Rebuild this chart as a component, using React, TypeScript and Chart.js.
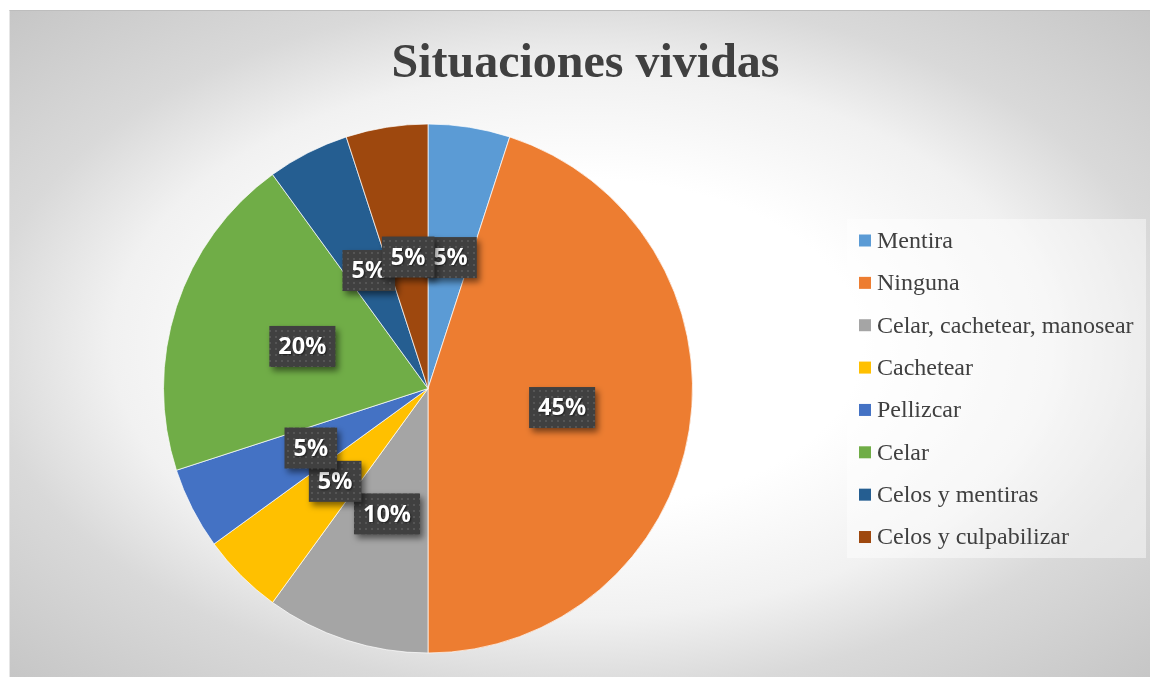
import React, { useEffect, useRef } from "react";
import { Chart, registerables } from "chart.js";

Chart.register(...registerables);

const TITLE = "Situaciones vividas";
const categories = [
  "Mentira",
  "Ninguna",
  "Celar, cachetear, manosear",
  "Cachetear",
  "Pellizcar",
  "Celar",
  "Celos y mentiras",
  "Celos y culpabilizar",
];
const percentages = [5, 45, 10, 5, 5, 20, 5, 5];
const sliceColors = [
  "#5B9BD5",
  "#ED7D31",
  "#A5A5A5",
  "#FFC000",
  "#4472C4",
  "#70AD47",
  "#255E91",
  "#9E480E",
];

// label box placement relative to the pie centre, in units of the pie radius
const labelNudges: [number, number][] = [
  [0.085, -0.495],
  [0.507, 0.072],
  [-0.155, 0.474],
  [-0.351, 0.351],
  [-0.443, 0.225],
  [-0.475, -0.159],
  [-0.224, -0.446],
  [-0.075, -0.497],
];

function makePattern(ctx: CanvasRenderingContext2D) {
  const c = document.createElement("canvas");
  c.width = 6;
  c.height = 6;
  const p = c.getContext("2d")!;
  p.fillStyle = "#404040";
  p.fillRect(0, 0, 6, 6);
  p.fillStyle = "#555555";
  p.fillRect(2, 2, 2, 2);
  return ctx.createPattern(c, "repeat")!;
}

const decorPlugin = {
  id: "decor",
  afterDraw(chart: any) {
    const ctx: CanvasRenderingContext2D = chart.ctx;
    const w = chart.width;
    // title
    ctx.save();
    ctx.fillStyle = "#404040";
    ctx.font = "bold 48px 'Liberation Serif', 'Times New Roman', serif";
    ctx.textAlign = "center";
    ctx.textBaseline = "alphabetic";
    ctx.fillText(TITLE, w / 2 + 6, 67);
    ctx.restore();

    // data labels
    const meta = chart.getDatasetMeta(0);
    const pattern = makePattern(ctx);
    const ds = chart.data.datasets[0];
    meta.data.forEach((arc: any, i: number) => {
      const { x, y, outerRadius } = arc.getProps(["x", "y", "outerRadius"], true);
      const [nx, ny] = labelNudges[i];
      const cx = x + nx * outerRadius;
      const cy = y + ny * outerRadius;
      const txt = ds.data[i] + "%";
      ctx.save();
      ctx.font = "bold 23.5px 'Open Sans', 'Noto Sans', sans-serif";
      const tw = ctx.measureText(txt).width;
      const bw = tw + 18;
      const bh = 41;
      ctx.shadowColor = "rgba(0,0,0,0.5)";
      ctx.shadowBlur = 6;
      ctx.shadowOffsetX = 3;
      ctx.shadowOffsetY = 4;
      ctx.fillStyle = pattern;
      ctx.fillRect(cx - bw / 2, cy - bh / 2, bw, bh);
      ctx.shadowColor = "rgba(0,0,0,0.6)";
      ctx.shadowBlur = 2;
      ctx.shadowOffsetX = 1;
      ctx.shadowOffsetY = 1;
      ctx.fillStyle = "#ffffff";
      ctx.textAlign = "center";
      ctx.textBaseline = "middle";
      ctx.fillText(txt, cx, cy + 1);
      ctx.restore();
    });

    // legend
    const lx = 838;
    const ly = 209;
    const lw = 299;
    const lh = 339;
    ctx.save();
    ctx.fillStyle = "rgba(255,255,255,0.45)";
    ctx.fillRect(lx, ly, lw, lh);
    ctx.font = "24px 'Liberation Serif', 'Times New Roman', serif";
    ctx.textBaseline = "middle";
    ctx.textAlign = "left";
    const labels: string[] = chart.data.labels;
    labels.forEach((lab, i) => {
      const yy = 230.5 + i * 42.36;
      ctx.fillStyle = (ds.backgroundColor as string[])[i];
      ctx.fillRect(850, yy - 6, 12, 12);
      ctx.fillStyle = "#404040";
      ctx.fillText(lab, 868, yy + 1);
    });
    ctx.restore();
  },
};

export default function App() {
  const ref = useRef<HTMLCanvasElement>(null);
  useEffect(() => {
    if (!ref.current) return;
    const chart = new Chart(ref.current, {
      type: "pie",
      data: {
        labels: categories,
        datasets: [
          {
            data: percentages,
            backgroundColor: sliceColors,
            borderColor: "rgba(255,255,255,0.7)",
            borderWidth: 1,
          },
        ],
      },
      options: {
        animation: false,
        responsive: false,
        maintainAspectRatio: false,
        layout: { padding: { left: 154, right: 457, top: 113, bottom: 23 } },
        plugins: {
          legend: { display: false },
          title: { display: false },
          tooltip: { enabled: false },
        },
      },
      plugins: [decorPlugin],
    });
    return () => chart.destroy();
  }, []);
  return (
    <div
      style={{
        position: "absolute",
        left: 9,
        top: 10,
        width: 1141,
        height: 667,
        boxSizing: "border-box",
        borderTop: "1px solid #bdbdbd",
        borderLeft: "1px solid #e6e6e6",
        background:
          "radial-gradient(ellipse farthest-corner at 50% 50%, #ffffff 0%, #ffffff 35%, #f1f1f1 58%, #d9d9d9 74%, #c6c6c6 100%)",
        overflow: "hidden",
      }}
    >
      <canvas ref={ref} width={1141} height={667} style={{ display: "block", position: "absolute", left: -1, top: -1 }} />
    </div>
  );
}
